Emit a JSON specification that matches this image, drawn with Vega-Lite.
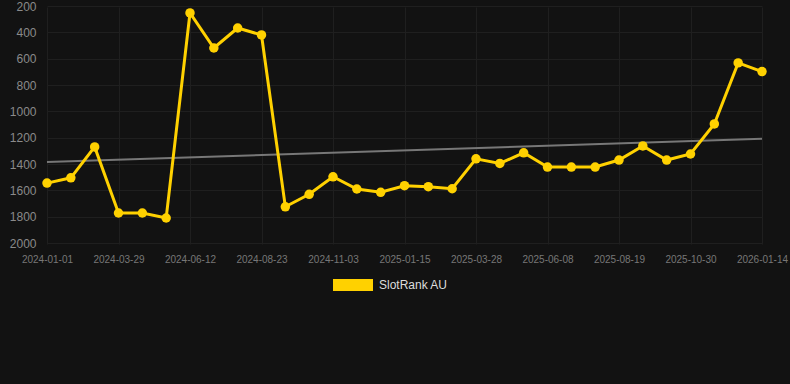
{
  "$schema": "https://vega.github.io/schema/vega-lite/v6.json",
  "autosize": "none",
  "width": 752,
  "height": 250,
  "padding": {"left": 38, "top": 0, "right": 0, "bottom": 134},
  "background": "#121212",
  "config": {
    "view": {"stroke": null},
    "font": "Liberation Sans"
  },
  "datasets": {
    "main": [
      {"date": "2024-01-01", "rank": 1545, "series": "SlotRank AU"},
      {"date": "2024-01-30", "rank": 1505, "series": "SlotRank AU"},
      {"date": "2024-02-28", "rank": 1270, "series": "SlotRank AU"},
      {"date": "2024-03-29", "rank": 1772, "series": "SlotRank AU"},
      {"date": "2024-04-23", "rank": 1772, "series": "SlotRank AU"},
      {"date": "2024-05-18", "rank": 1810, "series": "SlotRank AU"},
      {"date": "2024-06-12", "rank": 253, "series": "SlotRank AU"},
      {"date": "2024-07-06", "rank": 519, "series": "SlotRank AU"},
      {"date": "2024-07-30", "rank": 367, "series": "SlotRank AU"},
      {"date": "2024-08-23", "rank": 420, "series": "SlotRank AU"},
      {"date": "2024-09-16", "rank": 1725, "series": "SlotRank AU"},
      {"date": "2024-10-10", "rank": 1630, "series": "SlotRank AU"},
      {"date": "2024-11-03", "rank": 1497, "series": "SlotRank AU"},
      {"date": "2024-11-27", "rank": 1590, "series": "SlotRank AU"},
      {"date": "2024-12-21", "rank": 1615, "series": "SlotRank AU"},
      {"date": "2025-01-15", "rank": 1565, "series": "SlotRank AU"},
      {"date": "2025-02-08", "rank": 1572, "series": "SlotRank AU"},
      {"date": "2025-03-04", "rank": 1588, "series": "SlotRank AU"},
      {"date": "2025-03-28", "rank": 1361, "series": "SlotRank AU"},
      {"date": "2025-04-21", "rank": 1396, "series": "SlotRank AU"},
      {"date": "2025-05-15", "rank": 1315, "series": "SlotRank AU"},
      {"date": "2025-06-08", "rank": 1423, "series": "SlotRank AU"},
      {"date": "2025-07-02", "rank": 1423, "series": "SlotRank AU"},
      {"date": "2025-07-26", "rank": 1423, "series": "SlotRank AU"},
      {"date": "2025-08-19", "rank": 1370, "series": "SlotRank AU"},
      {"date": "2025-09-12", "rank": 1263, "series": "SlotRank AU"},
      {"date": "2025-10-06", "rank": 1370, "series": "SlotRank AU"},
      {"date": "2025-10-30", "rank": 1324, "series": "SlotRank AU"},
      {"date": "2025-11-24", "rank": 1096, "series": "SlotRank AU"},
      {"date": "2025-12-19", "rank": 632, "series": "SlotRank AU"},
      {"date": "2026-01-14", "rank": 698, "series": "SlotRank AU"}
    ],
    "trend": [
      {"date": "2024-01-01", "rank": 1385},
      {"date": "2026-01-14", "rank": 1208}
    ]
  },
  "encoding": {
    "x": {
      "field": "date",
      "type": "ordinal",
      "sort": "ascending",
      "scale": {"type": "point", "range": [9, 724], "padding": 0},
      "axis": {
        "title": null,
        "values": ["2024-01-01", "2024-03-29", "2024-06-12", "2024-08-23", "2024-11-03", "2025-01-15", "2025-03-28", "2025-06-08", "2025-08-19", "2025-10-30", "2026-01-14"],
        "labelAngle": 0,
        "grid": true,
        "gridColor": "#1f1f1f",
        "gridWidth": 1,
        "domain": false,
        "ticks": false,
        "labelColor": "#777777",
        "labelFontSize": 10,
        "labelPadding": 4,
        "labelFont": "Liberation Sans"
      }
    },
    "y": {
      "field": "rank",
      "type": "quantitative",
      "scale": {"domain": [200, 2000], "range": [6, 243], "nice": false, "zero": false},
      "axis": {
        "title": null,
        "format": "d",
        "values": [200, 400, 600, 800, 1000, 1200, 1400, 1600, 1800, 2000],
        "grid": true,
        "gridColor": "#1f1f1f",
        "gridWidth": 1,
        "domain": false,
        "ticks": false,
        "labelColor": "#8a8a8a",
        "labelFontSize": 12,
        "labelPadding": 2,
        "labelFont": "Liberation Sans"
      }
    }
  },
  "layer": [
    {
      "data": {"name": "trend"},
      "mark": {"type": "line", "color": "#777777", "strokeWidth": 2}
    },
    {
      "data": {"name": "main"},
      "mark": {"type": "line", "strokeWidth": 3, "point": {"filled": true, "size": 90}},
      "encoding": {
        "color": {
          "field": "series",
          "type": "nominal",
          "scale": {"range": ["#FFD100"]},
          "legend": {
            "title": null,
            "orient": "none",
            "legendX": 295,
            "legendY": 265,
            "symbolType": "M-1,-0.3H1V0.3H-1Z",
            "symbolSize": 1600,
            "symbolStrokeWidth": 0,
            "symbolFillColor": "#FFD100",
            "labelColor": "#dddddd",
            "labelFontSize": 12,
            "labelFont": "Liberation Sans",
            "labelOffset": 6
          }
        }
      }
    }
  ]
}
